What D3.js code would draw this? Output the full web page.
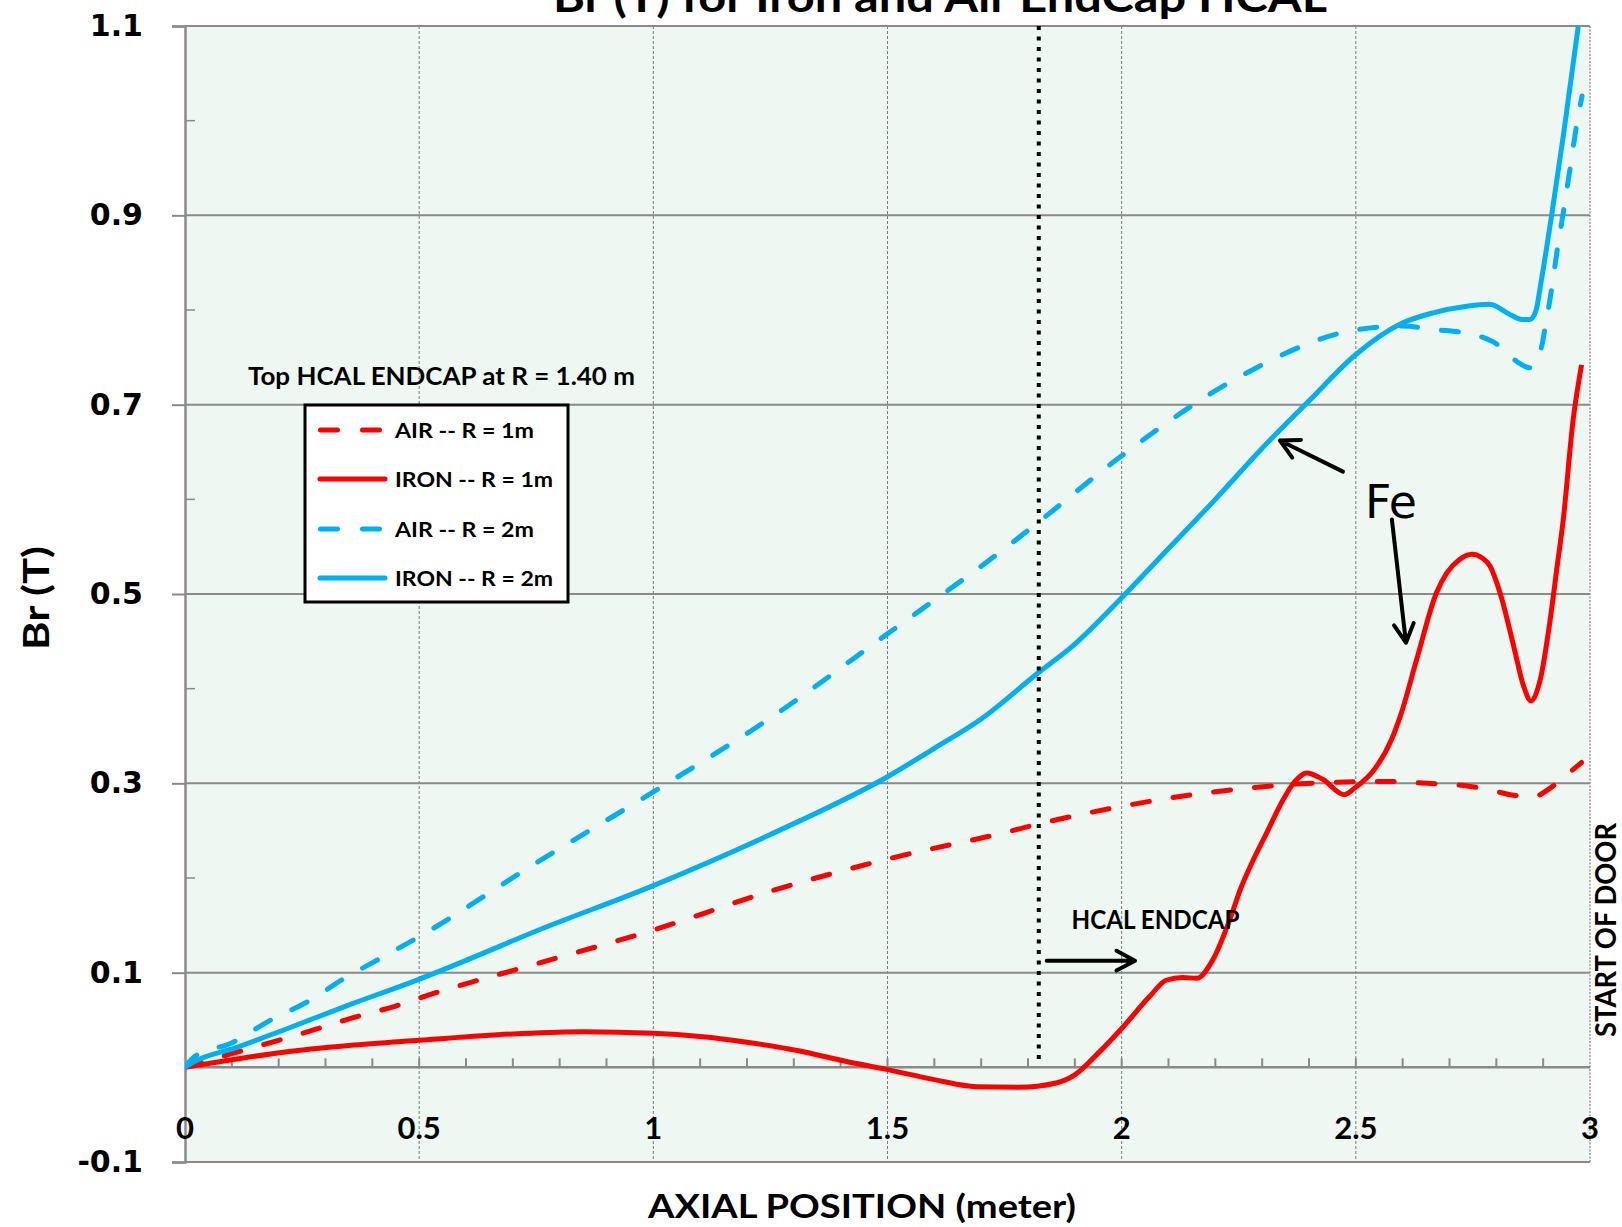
<!DOCTYPE html>
<html>
<head>
<meta charset="utf-8">
<script src="https://d3js.org/d3.v7.min.js"></script>
<style>
  html, body { margin: 0; padding: 0; background: #fff; }
  svg { display: block; }
  .lbl { font-family: Lato, 'Open Sans', sans-serif; font-weight: bold; fill: #000; }
</style>
</head>
<body>
<div id="chart"></div>
<script>
// series data: [axial position (m), Br (T)]
const airR1 = [[0,0],[0.0925,0.0134],[0.192,0.0275],[0.278,0.040],[0.363,0.053],[0.448,0.0645],[0.534,0.0786],
  [0.619,0.091],[0.705,0.103],[0.783,0.114],[1.0,0.145],[1.25,0.186],[1.5,0.22],[1.75,0.248],[1.847,0.26],
  [2.004,0.276],[2.096,0.284],[2.181,0.290],[2.273,0.295],[2.365,0.299],[2.451,0.301],[2.566,0.302],[2.652,0.300],
  [2.741,0.297],[2.787,0.293],[2.83,0.288],[2.88,0.286],[2.915,0.295],[2.95,0.309],[2.982,0.322]];

const ironR1 = [[0,0],[0.1,0.008],[0.21,0.016],[0.35,0.023],[0.5,0.0285],[0.71,0.0355],[0.85,0.0377],[1.0,0.036],
  [1.1,0.0325],[1.2,0.0265],[1.31,0.0175],[1.41,0.0064],[1.5,-0.0024],[1.6,-0.013],[1.69,-0.0205],[1.78,-0.021],
  [1.86,-0.0165],[1.9,-0.008],[1.95,0.015],[2.0,0.041],[2.06,0.075],[2.095,0.092],[2.13,0.095],[2.16,0.094],
  [2.195,0.114],[2.23,0.155],[2.255,0.19],[2.28,0.218],[2.31,0.248],[2.345,0.283],[2.37,0.302],[2.395,0.311],
  [2.43,0.304],[2.475,0.288],[2.5,0.296],[2.537,0.313],[2.576,0.346],[2.595,0.371],[2.63,0.431],[2.672,0.501],
  [2.694,0.522],[2.72,0.536],[2.748,0.542],[2.77,0.538],[2.787,0.529],[2.808,0.501],[2.837,0.445],[2.858,0.403],
  [2.874,0.387],[2.894,0.41],[2.915,0.473],[2.929,0.526],[2.943,0.579],[2.964,0.684],[2.982,0.742]];

const airR2 = [[0,0],[0.021,0.0116],[0.0997,0.0258],[0.178,0.0486],[0.263,0.0697],[0.342,0.0945],[0.413,0.114],
  [0.5,0.138],[0.75,0.216],[1.0,0.291],[1.25,0.369],[1.5,0.458],[1.75,0.548],[1.82,0.575],[2.0,0.646],[2.25,0.729],
  [2.5,0.779],[2.6,0.783],[2.676,0.779],[2.719,0.777],[2.766,0.772],[2.801,0.764],[2.837,0.748],[2.872,0.739],
  [2.897,0.762],[2.904,0.781],[2.919,0.825],[2.929,0.86],[2.943,0.903],[2.957,0.948],[2.971,0.994],[2.983,1.026]];

const ironR2 = [[0,0],[0.02,0.006],[0.107,0.0205],[0.2135,0.040],[0.356,0.067],[0.498,0.0927],[0.605,0.114],
  [0.75,0.144],[1.0,0.192],[1.25,0.246],[1.5,0.307],[1.6,0.337],[1.7,0.368],[1.82,0.416],[1.9,0.447],[2.0,0.496],
  [2.1,0.548],[2.2,0.60],[2.3,0.654],[2.4,0.704],[2.5,0.753],[2.594,0.785],[2.665,0.797],[2.737,0.804],[2.785,0.806],
  [2.83,0.795],[2.855,0.79],[2.872,0.79],[2.885,0.80],[2.894,0.825],[2.919,0.903],[2.943,0.984],[2.975,1.10]];

const xTicks = [0, 0.5, 1, 1.5, 2, 2.5, 3];
const xTickLabels = ['0', '0.5', '1', '1.5', '2', '2.5', '3'];
const yTicks = [-0.1, 0.1, 0.3, 0.5, 0.7, 0.9, 1.1];
const yTickLabels = ['-0.1', '0.1', '0.3', '0.5', '0.7', '0.9', '1.1'];
const yMinor = [0.2, 0.4, 0.6, 0.8, 1.0];
const xMinor = d3.range(1, 30).map(d => d / 10);

const legendTitle = 'Top HCAL ENDCAP at R = 1.40 m';
const seriesNames = ['AIR -- R = 1m', 'IRON -- R = 1m', 'AIR -- R = 2m', 'IRON -- R = 2m'];
const endcapStart = 1.823;

const RED = '#ff0000', BLUE = '#00b0f0';
const series = [
  { name: seriesNames[0], data: airR1, color: RED, dash: true },
  { name: seriesNames[1], data: ironR1, color: RED, dash: false },
  { name: seriesNames[2], data: airR2, color: BLUE, dash: true },
  { name: seriesNames[3], data: ironR2, color: BLUE, dash: false }
];

const W = 1622, H = 1227;
const margin = { left: 185, right: 32, top: 26, bottom: 65 };
const width = W - margin.left - margin.right;
const height = H - margin.top - margin.bottom;

const svg = d3.select('#chart').append('svg').attr('width', W).attr('height', H);

svg.append('defs').append('clipPath').attr('id', 'clip')
  .append('rect').attr('width', width).attr('height', height);

const g = svg.append('g').attr('transform', 'translate(' + margin.left + ',' + margin.top + ')');

const x = d3.scaleLinear().domain([0, 3]).range([0, width]);
const y = d3.scaleLinear().domain([-0.1, 1.1]).range([height, 0]);

// plot background
g.append('rect').attr('width', width).attr('height', height).attr('fill', '#eef7f1');

// vertical grid lines (dashed)
g.selectAll('.vgrid').data(xTicks.slice(1))
  .enter().append('line')
  .attr('x1', d => x(d)).attr('x2', d => x(d))
  .attr('y1', 0).attr('y2', height)
  .attr('stroke', d => d === 3 ? '#9a9a9a' : '#7a7a7a')
  .attr('stroke-width', d => d === 3 ? 1.5 : 1)
  .attr('stroke-dasharray', d => d === 3 ? '2,1.5' : '3,2');

// horizontal grid + y axis
const yAxis = d3.axisLeft(y).tickValues(yTicks).tickSize(13).tickPadding(29)
  .tickFormat((d, i) => yTickLabels[i]);
const yg = g.append('g').call(yAxis);
yg.select('.domain').attr('stroke', '#8a8a8a').attr('stroke-width', 2.5);
yg.selectAll('.tick line').attr('stroke', '#8a8a8a').attr('stroke-width', 2);
yg.selectAll('.tick text')
  .attr('font-family', "'DejaVu Sans', Verdana, sans-serif")
  .attr('font-weight', 'bold').attr('font-size', 30).attr('fill', '#000');

g.selectAll('.hgrid').data(yTicks)
  .enter().append('line')
  .attr('x1', 0).attr('x2', width)
  .attr('y1', d => y(d)).attr('y2', d => y(d))
  .attr('stroke', '#8a8a8a').attr('stroke-width', 2);

// minor y ticks inside
g.selectAll('.ymin').data(yMinor)
  .enter().append('line')
  .attr('x1', 0).attr('x2', 10)
  .attr('y1', d => y(d)).attr('y2', d => y(d))
  .attr('stroke', '#8a8a8a').attr('stroke-width', 1.5);

// zero line with minor ticks
g.append('line').attr('x1', 0).attr('x2', width).attr('y1', y(0)).attr('y2', y(0))
  .attr('stroke', '#8a8a8a').attr('stroke-width', 2.5);
g.selectAll('.xmin').data(xMinor)
  .enter().append('line')
  .attr('x1', d => x(d)).attr('x2', d => x(d))
  .attr('y1', y(0)).attr('y2', y(0) - 9)
  .attr('stroke', '#8a8a8a').attr('stroke-width', 2);

// x tick labels
g.selectAll('.xlab').data(xTicks)
  .enter().append('text').attr('class', 'lbl')
  .attr('x', d => x(d)).attr('y', 1139 - margin.top)
  .attr('text-anchor', 'middle').attr('font-size', 31)
  .text((d, i) => xTickLabels[i]);

// curves
const line = d3.line().x(d => x(d[0])).y(d => y(d[1])).curve(d3.curveMonotoneX);
const curves = g.append('g').attr('clip-path', 'url(#clip)');
curves.selectAll('path').data(series)
  .enter().append('path')
  .attr('d', d => line(d.data))
  .attr('fill', 'none')
  .attr('stroke', d => d.color)
  .attr('stroke-width', 5)
  .attr('stroke-linecap', d => d.dash ? 'round' : 'butt')
  .attr('stroke-linejoin', 'round')
  .attr('stroke-dasharray', d => d.dash ? '17,24' : null);

// start of HCAL endcap marker
g.append('line')
  .attr('x1', x(endcapStart)).attr('x2', x(endcapStart))
  .attr('y1', y(1.1)).attr('y2', y(0.005))
  .attr('stroke', '#000').attr('stroke-width', 4).attr('stroke-dasharray', '4,6.5');

// arrows
function arrow(x0, y0, x1, y1) {
  const px0 = x(x0), py0 = y(y0), px1 = x(x1), py1 = y(y1);
  const a = Math.atan2(py0 - py1, px0 - px1);
  const len = 21, spread = 28 * Math.PI / 180;
  const path = d3.path();
  path.moveTo(px0, py0); path.lineTo(px1, py1);
  path.moveTo(px1 + len * Math.cos(a + spread), py1 + len * Math.sin(a + spread));
  path.lineTo(px1, py1);
  path.lineTo(px1 + len * Math.cos(a - spread), py1 + len * Math.sin(a - spread));
  g.append('path').attr('d', path.toString())
    .attr('fill', 'none').attr('stroke', '#000').attr('stroke-width', 4)
    .attr('stroke-linecap', 'round').attr('stroke-linejoin', 'round');
}
arrow(1.840, 0.1127, 2.0285, 0.1127);
arrow(2.4725, 0.6293, 2.338, 0.6621);
arrow(2.577, 0.5786, 2.607, 0.4486);

g.append('text').attr('class', 'lbl')
  .attr('x', x(1.893)).attr('y', y(0.1462))
  .attr('font-size', 26).attr('textLength', 168).attr('lengthAdjust', 'spacingAndGlyphs')
  .text('HCAL ENDCAP');

g.append('text')
  .attr('x', x(2.5196)).attr('y', y(0.5808))
  .attr('font-family', "'DejaVu Sans', sans-serif").attr('font-size', 46)
  .attr('textLength', 52).attr('lengthAdjust', 'spacingAndGlyphs')
  .text('Fe');

// legend
svg.append('text').attr('class', 'lbl')
  .attr('x', 248).attr('y', 385).attr('font-size', 24)
  .attr('textLength', 387).attr('lengthAdjust', 'spacingAndGlyphs')
  .text(legendTitle);

const legend = svg.append('g');
legend.append('rect').attr('x', 305).attr('y', 405).attr('width', 263).attr('height', 197)
  .attr('fill', '#fff').attr('stroke', '#000').attr('stroke-width', 3);
const rowY = [430, 479, 529, 578];
const items = legend.selectAll('.item').data(series).enter().append('g')
  .attr('transform', (d, i) => 'translate(0,' + rowY[i] + ')');
items.append('line')
  .attr('x1', d => d.dash ? 320.5 : 320).attr('x2', 385).attr('y1', 0).attr('y2', 0)
  .attr('stroke', d => d.color).attr('stroke-width', 5)
  .attr('stroke-linecap', 'round')
  .attr('stroke-dasharray', d => d.dash ? '17,25' : null);
items.append('text').attr('class', 'lbl')
  .attr('x', 395).attr('y', 7.5).attr('font-size', 21)
  .attr('textLength', d => d.name.startsWith('IRON') ? 158 : 139)
  .attr('lengthAdjust', 'spacingAndGlyphs')
  .text(d => d.name);

// titles
svg.append('text').attr('class', 'lbl')
  .attr('x', 940).attr('y', 12).attr('text-anchor', 'middle').attr('font-size', 42)
  .attr('textLength', 774).attr('lengthAdjust', 'spacingAndGlyphs')
  .text('Br (T) for Iron and Air EndCap HCAL');

svg.append('text').attr('class', 'lbl')
  .attr('x', 862).attr('y', 1218).attr('text-anchor', 'middle').attr('font-size', 32)
  .attr('textLength', 428).attr('lengthAdjust', 'spacingAndGlyphs')
  .text('AXIAL POSITION (meter)');

svg.append('text').attr('class', 'lbl')
  .attr('transform', 'translate(49,598) rotate(-90)')
  .attr('text-anchor', 'middle').attr('font-size', 36)
  .attr('textLength', 104).attr('lengthAdjust', 'spacingAndGlyphs')
  .text('Br (T)');

svg.append('text').attr('class', 'lbl')
  .attr('transform', 'translate(1616,930) rotate(-90)')
  .attr('text-anchor', 'middle').attr('font-size', 29)
  .attr('textLength', 214).attr('lengthAdjust', 'spacingAndGlyphs')
  .text('START OF DOOR');
</script>
</body>
</html>
